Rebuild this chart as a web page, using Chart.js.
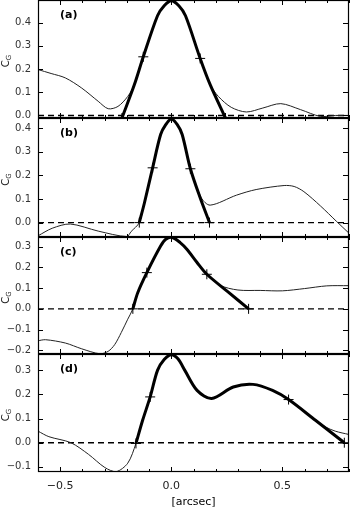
<!DOCTYPE html>
<html><head><meta charset="utf-8">
<script src="https://cdn.jsdelivr.net/npm/chart.js@4/dist/chart.umd.min.js"></script>
<style>
html,body{margin:0;padding:0;background:#fff;width:355px;height:509px;overflow:hidden;position:relative}
.p{position:absolute;left:0;width:355px}
canvas{display:block}
</style></head><body>
<div class="p" id="wa"></div>
<div class="p" id="wb"></div>
<div class="p" id="wc"></div>
<div class="p" id="wd"></div>
<script>
// ---------- data ----------
const xAxisRange = [-0.6, 0.8];
const xTickLabels = [-0.5, 0.0, 0.5];
const xAxisTitle = '[arcsec]';
const yAxisTitleMain = 'C';
const yAxisTitleSub = 'G';
const panelLabels = ['(a)', '(b)', '(c)', '(d)'];

// panel (a)
const thinAx = [-0.6, -0.541, -0.477, -0.403, -0.329, -0.284, -0.24, -0.196, -0.166, -0.126, -0.062, -0.032, 0.0, 0.034, 0.064, 0.13, 0.175, 0.212, 0.27, 0.338, 0.412, 0.493, 0.582, 0.671, 0.74, 0.8];
const thinAy = [0.198, 0.181, 0.162, 0.118, 0.061, 0.029, 0.039, 0.082, 0.133, 0.253, 0.43, 0.473, 0.495, 0.473, 0.43, 0.246, 0.133, 0.082, 0.035, 0.015, 0.032, 0.051, 0.025, -0.004, 0.0, 0.0];
const thickAx = [-0.222, -0.166, -0.126, -0.062, -0.032, 0.0, 0.034, 0.064, 0.13, 0.175, 0.244];
const thickAy = [-0.011, 0.133, 0.253, 0.43, 0.473, 0.495, 0.473, 0.43, 0.246, 0.133, -0.011];
const markAx = [-0.222, -0.126, 0.13, 0.244];
const markAy = [-0.011, 0.253, 0.246, -0.011];
const yRangeA = [-0.011, 0.498];
const yTicksA = [0.0, 0.1, 0.2, 0.3, 0.4];

// panel (b)
const thinBx = [-0.6, -0.536, -0.455, -0.329, -0.2, -0.181, -0.144, -0.121, -0.084, -0.048, -0.025, 0.0, 0.027, 0.049, 0.086, 0.135, 0.175, 0.293, 0.382, 0.508, 0.553, 0.597, 0.671, 0.745, 0.8];
const thinBy = [-0.056, -0.024, -0.006, -0.036, -0.059, -0.038, 0.0, 0.083, 0.232, 0.373, 0.415, 0.439, 0.415, 0.373, 0.228, 0.105, 0.074, 0.116, 0.14, 0.157, 0.153, 0.131, 0.071, 0.004, -0.045];
const thickBx = [-0.144, -0.121, -0.084, -0.048, -0.025, 0.0, 0.027, 0.049, 0.086, 0.13, 0.172];
const thickBy = [0.0, 0.083, 0.232, 0.373, 0.415, 0.439, 0.415, 0.373, 0.228, 0.105, 0.0];
const markBx = [-0.144, -0.084, 0.086, 0.172];
const markBy = [0.0, 0.232, 0.228, 0.0];
const yRangeB = [-0.061, 0.443];
const yTicksB = [0.0, 0.1, 0.2, 0.3, 0.4];

// panel (c)
const thinCx = [-0.6, -0.566, -0.477, -0.403, -0.321, -0.284, -0.255, -0.225, -0.196, -0.173, -0.151, -0.11, -0.048, -0.025, 0.004, 0.04, 0.071, 0.116, 0.16, 0.219, 0.3, 0.4, 0.5, 0.6, 0.7, 0.8];
const thinCy = [-0.154, -0.149, -0.165, -0.193, -0.217, -0.205, -0.173, -0.114, -0.05, 0.0, 0.078, 0.175, 0.303, 0.336, 0.345, 0.32, 0.287, 0.224, 0.167, 0.114, 0.091, 0.089, 0.087, 0.098, 0.111, 0.112];
const thickCx = [-0.173, -0.151, -0.11, -0.048, -0.025, 0.004, 0.04, 0.071, 0.116, 0.16, 0.254, 0.348];
const thickCy = [0.0, 0.078, 0.175, 0.303, 0.336, 0.345, 0.32, 0.287, 0.224, 0.167, 0.083, 0.0];
const markCx = [-0.173, -0.11, 0.16, 0.348];
const markCy = [0.0, 0.175, 0.167, 0.0];
const yRangeC = [-0.218, 0.347];
const yTicksC = [-0.2, -0.1, 0.0, 0.1, 0.2, 0.3];

// panel (d)
const thinDx = [-0.6, -0.551, -0.452, -0.373, -0.299, -0.248, -0.196, -0.159, -0.129, -0.095, -0.062, -0.032, 0.0, 0.03, 0.061, 0.116, 0.182, 0.279, 0.368, 0.456, 0.528, 0.649, 0.693, 0.738, 0.8];
const thinDy = [0.048, 0.025, 0.0, -0.048, -0.103, -0.12, -0.085, -0.003, 0.093, 0.19, 0.3, 0.345, 0.365, 0.348, 0.3, 0.217, 0.183, 0.231, 0.242, 0.217, 0.179, 0.093, 0.066, 0.048, 0.034];
const thickDx = [-0.159, -0.129, -0.095, -0.062, -0.032, 0.0, 0.03, 0.061, 0.116, 0.182, 0.279, 0.368, 0.456, 0.528, 0.649, 0.779];
const thickDy = [-0.003, 0.093, 0.19, 0.3, 0.345, 0.365, 0.348, 0.3, 0.217, 0.183, 0.231, 0.242, 0.217, 0.179, 0.093, 0.0];
const markDx = [-0.159, -0.095, 0.528, 0.779];
const markDy = [-0.003, 0.19, 0.179, 0.0];
const yRangeD = [-0.1215, 0.368];
const yTicksD = [-0.1, 0.0, 0.1, 0.2, 0.3];

// ---------- layout (page pixels of each panel frame) ----------
const panelFrames = [[0, 118], [118, 237], [237, 354], [354, 472]];
const PAD = 16;
const PAGE_H = 509;

const pts = (xs, ys) => xs.map((x, i) => ({x, y: ys[i]}));
const fmt = v => (Math.abs(v) < 1e-9 ? 0 : v).toFixed(1).replace('-', '\u2212');

const framePlugin = {
  id: 'frame',
  afterDraw(chart, args, opts) {
    const {ctx, chartArea: a, scales: {x, y}} = chart;
    ctx.save();
    ctx.strokeStyle = '#000';
    ctx.lineWidth = 1;
    ctx.beginPath();
    for (let k = -6; k <= 8; k++) {
      const v = k / 10;
      const px = Math.round(x.getPixelForValue(v)) + 0.5;
      const len = (k % 5 === 0) ? 5 : 3;
      ctx.moveTo(px, a.top); ctx.lineTo(px, a.top + len);
      ctx.moveTo(px, a.bottom); ctx.lineTo(px, a.bottom - len);
    }
    y.ticks.forEach(t => {
      const py = Math.round(y.getPixelForValue(t.value)) + 0.5;
      ctx.moveTo(a.left, py); ctx.lineTo(a.left + 5, py);
      ctx.moveTo(a.right, py); ctx.lineTo(a.right - 6, py);
    });
    ctx.stroke();
    ctx.lineWidth = 1.2;
    ctx.strokeRect(a.left + 0.5, a.top + 0.5, a.right - a.left - 1, a.bottom - a.top - 1);
    // panel label
    ctx.fillStyle = '#000';
    ctx.font = 'bold 11px "DejaVu Sans"';
    ctx.textBaseline = 'middle';
    ctx.textAlign = 'left';
    ctx.fillText(opts.label, 60, a.top + 15.5);
    // y title C_G
    const yc = (a.top + a.bottom) / 2 + 2;
    ctx.translate(8.5, yc);
    ctx.rotate(-Math.PI / 2);
    ctx.textBaseline = 'alphabetic';
    ctx.font = '10px "DejaVu Sans"';
    const wC = ctx.measureText(yAxisTitleMain).width;
    ctx.font = '7px "DejaVu Sans"';
    const wG = ctx.measureText(yAxisTitleSub).width;
    const x0 = -(wC + wG) / 2;
    ctx.fillStyle = '#222';
    ctx.font = '10px "DejaVu Sans"';
    ctx.fillText(yAxisTitleMain, x0, 0);
    ctx.font = '7px "DejaVu Sans"';
    ctx.fillText(yAxisTitleSub, x0 + wC, 2);
    ctx.restore();
  }
};

function makePanel(idx, wrapId, thin, thick, marks, yRange, yTicks, showX) {
  const [T, B] = panelFrames[idx];
  const top = T - PAD;
  const h = showX ? (PAGE_H - top) : (B - T + 2 * PAD);
  const wrap = document.getElementById(wrapId);
  wrap.style.top = top + 'px';
  wrap.style.height = h + 'px';
  const cv = document.createElement('canvas');
  cv.width = 355; cv.height = h;
  cv.style.width = '355px'; cv.style.height = h + 'px';
  wrap.appendChild(cv);
  new Chart(cv, {
    type: 'line',
    data: {
      datasets: [
        {data: pts(marks[0], marks[1]), showLine: false, pointStyle: 'cross', pointRadius: 5, pointBorderWidth: 1, pointBorderColor: '#000', order: 0},
        {data: pts(thick[0], thick[1]), borderColor: '#000', borderWidth: 3, borderJoinStyle: 'round', pointRadius: 0, tension: 0.3, order: 1},
        {data: pts(thin[0], thin[1]), borderColor: '#222', borderWidth: 1, pointRadius: 0, tension: 0.3, order: 2},
        {data: pts(xAxisRange, [0, 0]), borderColor: '#000', borderWidth: 1.4, borderDash: [6, 4], pointRadius: 0, order: 3}
      ]
    },
    options: {
      responsive: false, animation: false, devicePixelRatio: 1,
      layout: {padding: {top: PAD, bottom: showX ? 0 : PAD, left: 0, right: 1}},
      plugins: {legend: {display: false}, tooltip: {enabled: false}, frame: {label: panelLabels[idx]}},
      scales: {
        x: {
          type: 'linear', min: xAxisRange[0], max: xAxisRange[1], bounds: 'data',
          display: showX,
          grid: {display: false, drawTicks: false},
          border: {display: false},
          afterBuildTicks: s => { s.ticks = xTickLabels.map(v => ({value: v})); },
          ticks: {
            autoSkip: false, maxRotation: 0, padding: 8,
            color: '#222', font: {family: 'DejaVu Sans', size: 11},
            callback: v => fmt(v)
          },
          title: {display: showX, text: xAxisTitle, color: '#000', font: {family: 'DejaVu Sans', size: 11}, padding: {top: 0, bottom: 0}},
          afterFit: s => { if (showX) s.height = PAGE_H - B; }
        },
        y: {
          type: 'linear', min: yRange[0], max: yRange[1], bounds: 'data',
          grid: {display: false, drawTicks: false},
          border: {display: false},
          afterBuildTicks: s => { s.ticks = yTicks.map(v => ({value: v})); },
          ticks: {
            autoSkip: false, padding: 7,
            color: '#333', font: {family: 'DejaVu Sans', size: 10},
            callback: v => fmt(v)
          },
          afterFit: s => { s.width = 38; }
        }
      }
    },
    plugins: [framePlugin]
  });
}

makePanel(0, 'wa', [thinAx, thinAy], [thickAx, thickAy], [markAx, markAy], yRangeA, yTicksA, false);
makePanel(1, 'wb', [thinBx, thinBy], [thickBx, thickBy], [markBx, markBy], yRangeB, yTicksB, false);
makePanel(2, 'wc', [thinCx, thinCy], [thickCx, thickCy], [markCx, markCy], yRangeC, yTicksC, false);
makePanel(3, 'wd', [thinDx, thinDy], [thickDx, thickDy], [markDx, markDy], yRangeD, yTicksD, true);
</script>
</body></html>
